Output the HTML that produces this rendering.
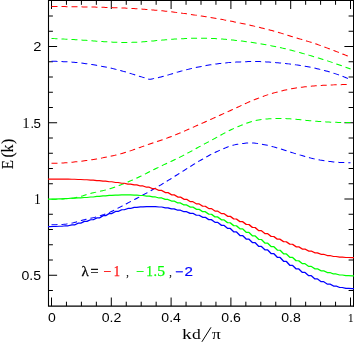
<!DOCTYPE html><html><head><meta charset="utf-8"><style>html,body{margin:0;padding:0;background:#fff;overflow:hidden}svg{display:block;will-change:transform}text{font-family:"Liberation Serif",serif}.s{font-family:"Liberation Sans",sans-serif}</style></head><body>
<svg width="354" height="343" viewBox="0 0 354 343">
<rect width="354" height="343" fill="#fff"/>
<path d="M48.5 0 V306.65000000000003 M48.0 306.1 H354 M48.0 0.4 H354" stroke="#000" stroke-width="1.1" fill="none"/>
<path d="M353.5 0 V306.65000000000003" stroke="#000" stroke-width="1" fill="none"/>
<path d="M51.50 306.1 v-8.6 M51.50 0.4 v8.6 M66.45 306.1 v-4.4 M66.45 0.4 v4.4 M81.40 306.1 v-4.4 M81.40 0.4 v4.4 M96.35 306.1 v-4.4 M96.35 0.4 v4.4 M111.30 306.1 v-8.6 M111.30 0.4 v8.6 M126.25 306.1 v-4.4 M126.25 0.4 v4.4 M141.20 306.1 v-4.4 M141.20 0.4 v4.4 M156.15 306.1 v-4.4 M156.15 0.4 v4.4 M171.10 306.1 v-8.6 M171.10 0.4 v8.6 M186.05 306.1 v-4.4 M186.05 0.4 v4.4 M201.00 306.1 v-4.4 M201.00 0.4 v4.4 M215.95 306.1 v-4.4 M215.95 0.4 v4.4 M230.90 306.1 v-8.6 M230.90 0.4 v8.6 M245.85 306.1 v-4.4 M245.85 0.4 v4.4 M260.80 306.1 v-4.4 M260.80 0.4 v4.4 M275.75 306.1 v-4.4 M275.75 0.4 v4.4 M290.70 306.1 v-8.6 M290.70 0.4 v8.6 M305.65 306.1 v-4.4 M305.65 0.4 v4.4 M320.60 306.1 v-4.4 M320.60 0.4 v4.4 M335.55 306.1 v-4.4 M335.55 0.4 v4.4 M350.50 306.1 v-8.6 M350.50 0.4 v8.6 M48.5 290.50 h4.4 M353.0 290.50 h-4.4 M48.5 275.25 h8.6 M48.5 260.00 h4.4 M353.0 260.00 h-4.4 M48.5 244.75 h4.4 M353.0 244.75 h-4.4 M48.5 229.50 h4.4 M353.0 229.50 h-4.4 M48.5 214.25 h4.4 M353.0 214.25 h-4.4 M353.0 199.00 h-8.6 M48.5 183.75 h4.4 M353.0 183.75 h-4.4 M48.5 168.50 h4.4 M353.0 168.50 h-4.4 M48.5 153.25 h4.4 M353.0 153.25 h-4.4 M48.5 138.00 h4.4 M353.0 138.00 h-4.4 M48.5 122.75 h8.6 M353.0 122.75 h-8.6 M48.5 107.50 h4.4 M353.0 107.50 h-4.4 M48.5 92.25 h4.4 M353.0 92.25 h-4.4 M48.5 77.00 h4.4 M353.0 77.00 h-4.4 M48.5 61.75 h4.4 M353.0 61.75 h-4.4 M48.5 46.50 h8.6 M353.0 46.50 h-8.6 M48.5 31.25 h4.4 M353.0 31.25 h-4.4 M48.5 16.00 h4.4 M353.0 16.00 h-4.4" stroke="#000" stroke-width="1" fill="none"/>
<g transform="scale(1,0.79365)">
<path d="M51.5 8.19 L53.0 8.20 L54.5 8.21 L56.0 8.23 L57.5 8.24 L59.0 8.26 L60.5 8.28 L62.0 8.29 L63.5 8.32 L65.0 8.34 L66.5 8.36 L68.0 8.38 L69.5 8.41 L71.0 8.44 L72.5 8.46 L74.0 8.49 L75.5 8.52 L77.0 8.55 L78.5 8.58 L80.0 8.61 L81.5 8.64 L83.0 8.67 L84.5 8.70 L86.0 8.74 L87.5 8.77 L89.0 8.81 L90.5 8.85 L92.0 8.89 L93.5 8.93 L95.0 8.97 L96.5 9.02 L98.0 9.07 L99.5 9.11 L101.0 9.16 L102.5 9.22 L104.0 9.27 L105.5 9.33 L107.0 9.38 L108.5 9.44 L110.0 9.50 L111.5 9.56 L113.0 9.63 L114.5 9.70 L116.0 9.76 L117.5 9.83 L119.0 9.91 L120.5 9.98 L122.0 10.06 L123.5 10.14 L125.0 10.23 L126.5 10.32 L128.0 10.42 L129.5 10.52 L131.0 10.62 L132.5 10.73 L134.0 10.85 L135.5 10.96 L137.0 11.09 L138.5 11.21 L140.0 11.34 L141.5 11.47 L143.0 11.61 L144.5 11.75 L146.0 11.89 L147.5 12.04 L149.0 12.19 L150.5 12.34 L152.0 12.49 L153.5 12.65 L155.0 12.81 L156.5 12.97 L158.0 13.13 L159.5 13.30 L161.0 13.47 L162.5 13.65 L164.0 13.83 L165.5 14.03 L167.0 14.23 L168.5 14.44 L170.0 14.65 L171.5 14.88 L173.0 15.10 L174.5 15.34 L176.0 15.58 L177.5 15.82 L179.0 16.07 L180.5 16.33 L182.0 16.59 L183.5 16.85 L185.0 17.12 L186.5 17.39 L188.0 17.66 L189.5 17.93 L191.0 18.21 L192.5 18.49 L194.0 18.77 L195.5 19.06 L197.0 19.34 L198.5 19.62 L200.0 19.91 L201.5 20.19 L203.0 20.49 L204.5 20.78 L206.0 21.08 L207.5 21.39 L209.0 21.70 L210.5 22.01 L212.0 22.33 L213.5 22.65 L215.0 22.98 L216.5 23.31 L218.0 23.65 L219.5 23.99 L221.0 24.33 L222.5 24.68 L224.0 25.03 L225.5 25.38 L227.0 25.74 L228.5 26.10 L230.0 26.47 L231.5 26.84 L233.0 27.21 L234.5 27.59 L236.0 27.97 L237.5 28.36 L239.0 28.75 L240.5 29.14 L242.0 29.54 L243.5 29.94 L245.0 30.35 L246.5 30.76 L248.0 31.18 L249.5 31.61 L251.0 32.03 L252.5 32.47 L254.0 32.90 L255.5 33.35 L257.0 33.79 L258.5 34.25 L260.0 34.70 L261.5 35.17 L263.0 35.64 L264.5 36.11 L266.0 36.59 L267.5 37.07 L269.0 37.56 L270.5 38.05 L272.0 38.55 L273.5 39.05 L275.0 39.56 L276.5 40.09 L278.0 40.63 L279.5 41.19 L281.0 41.77 L282.5 42.35 L284.0 42.95 L285.5 43.55 L287.0 44.15 L288.5 44.74 L290.0 45.34 L291.5 45.92 L293.0 46.50 L294.5 47.07 L296.0 47.63 L297.5 48.19 L299.0 48.75 L300.5 49.31 L302.0 49.87 L303.5 50.43 L305.0 50.99 L306.5 51.56 L308.0 52.14 L309.5 52.73 L311.0 53.33 L312.5 53.94 L314.0 54.56 L315.5 55.19 L317.0 55.84 L318.5 56.50 L320.0 57.17 L321.5 57.85 L323.0 58.54 L324.5 59.24 L326.0 59.95 L327.5 60.66 L329.0 61.37 L330.5 62.09 L332.0 62.81 L333.5 63.54 L335.0 64.26 L336.5 64.99 L338.0 65.72 L339.5 66.46 L341.0 67.21 L342.5 67.96 L344.0 68.72 L345.5 69.49 L347.0 70.26 L348.5 71.03 L350.0 71.81 L350.5 72.07" fill="none" stroke="#ff0000" stroke-width="1.25" stroke-dasharray="6 4" stroke-dashoffset="0"/>
<path d="M51.5 48.51 L53.0 48.59 L54.5 48.67 L56.0 48.76 L57.5 48.84 L59.0 48.93 L60.5 49.02 L62.0 49.11 L63.5 49.21 L65.0 49.30 L66.5 49.40 L68.0 49.50 L69.5 49.60 L71.0 49.70 L72.5 49.81 L74.0 49.91 L75.5 50.02 L77.0 50.13 L78.5 50.24 L80.0 50.35 L81.5 50.46 L83.0 50.58 L84.5 50.69 L86.0 50.81 L87.5 50.95 L89.0 51.08 L90.5 51.23 L92.0 51.38 L93.5 51.53 L95.0 51.68 L96.5 51.83 L98.0 51.98 L99.5 52.12 L101.0 52.26 L102.5 52.39 L104.0 52.52 L105.5 52.63 L107.0 52.73 L108.5 52.82 L110.0 52.91 L111.5 53.01 L113.0 53.10 L114.5 53.19 L116.0 53.27 L117.5 53.35 L119.0 53.41 L120.5 53.47 L122.0 53.51 L123.5 53.54 L125.0 53.55 L126.5 53.54 L128.0 53.51 L129.5 53.47 L131.0 53.41 L132.5 53.35 L134.0 53.27 L135.5 53.19 L137.0 53.10 L138.5 53.01 L140.0 52.92 L141.5 52.82 L143.0 52.70 L144.5 52.56 L146.0 52.41 L147.5 52.25 L149.0 52.07 L150.5 51.89 L152.0 51.71 L153.5 51.52 L155.0 51.34 L156.5 51.16 L158.0 50.99 L159.5 50.83 L161.0 50.68 L162.5 50.52 L164.0 50.36 L165.5 50.20 L167.0 50.03 L168.5 49.87 L170.0 49.72 L171.5 49.57 L173.0 49.42 L174.5 49.28 L176.0 49.16 L177.5 49.05 L179.0 48.95 L180.5 48.86 L182.0 48.78 L183.5 48.70 L185.0 48.62 L186.5 48.54 L188.0 48.47 L189.5 48.40 L191.0 48.33 L192.5 48.28 L194.0 48.23 L195.5 48.19 L197.0 48.16 L198.5 48.14 L200.0 48.13 L201.5 48.14 L203.0 48.16 L204.5 48.19 L206.0 48.24 L207.5 48.29 L209.0 48.35 L210.5 48.42 L212.0 48.49 L213.5 48.56 L215.0 48.64 L216.5 48.72 L218.0 48.82 L219.5 48.94 L221.0 49.07 L222.5 49.22 L224.0 49.38 L225.5 49.54 L227.0 49.72 L228.5 49.91 L230.0 50.10 L231.5 50.30 L233.0 50.50 L234.5 50.70 L236.0 50.90 L237.5 51.11 L239.0 51.33 L240.5 51.55 L242.0 51.78 L243.5 52.02 L245.0 52.27 L246.5 52.53 L248.0 52.79 L249.5 53.06 L251.0 53.33 L252.5 53.62 L254.0 53.91 L255.5 54.21 L257.0 54.51 L258.5 54.82 L260.0 55.13 L261.5 55.46 L263.0 55.78 L264.5 56.12 L266.0 56.45 L267.5 56.80 L269.0 57.15 L270.5 57.50 L272.0 57.86 L273.5 58.22 L275.0 58.59 L276.5 58.97 L278.0 59.36 L279.5 59.76 L281.0 60.18 L282.5 60.61 L284.0 61.05 L285.5 61.50 L287.0 61.96 L288.5 62.43 L290.0 62.91 L291.5 63.40 L293.0 63.90 L294.5 64.41 L296.0 64.92 L297.5 65.44 L299.0 65.97 L300.5 66.50 L302.0 67.03 L303.5 67.57 L305.0 68.12 L306.5 68.67 L308.0 69.22 L309.5 69.77 L311.0 70.33 L312.5 70.88 L314.0 71.44 L315.5 72.00 L317.0 72.57 L318.5 73.15 L320.0 73.73 L321.5 74.32 L323.0 74.92 L324.5 75.52 L326.0 76.13 L327.5 76.75 L329.0 77.37 L330.5 78.00 L332.0 78.63 L333.5 79.27 L335.0 79.92 L336.5 80.58 L338.0 81.23 L339.5 81.90 L341.0 82.57 L342.5 83.25 L344.0 83.93 L345.5 84.61 L347.0 85.31 L348.5 86.00 L350.0 86.70 L350.5 86.94" fill="none" stroke="#00ff00" stroke-width="1.25" stroke-dasharray="6 4" stroke-dashoffset="0"/>
<path d="M51.5 77.24 L53.0 77.25 L54.5 77.28 L56.0 77.32 L57.5 77.37 L59.0 77.44 L60.5 77.51 L62.0 77.59 L63.5 77.68 L65.0 77.78 L66.5 77.88 L68.0 77.98 L69.5 78.08 L71.0 78.20 L72.5 78.33 L74.0 78.49 L75.5 78.66 L77.0 78.85 L78.5 79.06 L80.0 79.27 L81.5 79.50 L83.0 79.73 L84.5 79.96 L86.0 80.21 L87.5 80.47 L89.0 80.74 L90.5 81.02 L92.0 81.32 L93.5 81.63 L95.0 81.94 L96.5 82.27 L98.0 82.61 L99.5 82.96 L101.0 83.31 L102.5 83.67 L104.0 84.04 L105.5 84.41 L107.0 84.79 L108.5 85.18 L110.0 85.58 L111.5 86.01 L113.0 86.45 L114.5 86.91 L116.0 87.39 L117.5 87.88 L119.0 88.37 L120.5 88.87 L122.0 89.39 L123.5 89.93 L125.0 90.48 L126.5 91.04 L128.0 91.62 L129.5 92.20 L131.0 92.78 L132.5 93.37 L134.0 93.96 L135.5 94.55 L137.0 95.13 L138.5 95.71 L140.0 96.29 L141.5 96.88 L143.0 97.47 L144.5 98.06 L146.0 98.65 L147.5 99.25 L149.0 99.84 L150.5 99.81 L152.0 99.44 L153.5 99.06 L155.0 98.67 L156.5 98.26 L158.0 97.84 L159.5 97.40 L161.0 96.95 L162.5 96.48 L164.0 95.99 L165.5 95.47 L167.0 94.92 L168.5 94.34 L170.0 93.75 L171.5 93.16 L173.0 92.56 L174.5 91.97 L176.0 91.40 L177.5 90.84 L179.0 90.30 L180.5 89.80 L182.0 89.31 L183.5 88.82 L185.0 88.33 L186.5 87.86 L188.0 87.39 L189.5 86.93 L191.0 86.48 L192.5 86.04 L194.0 85.61 L195.5 85.20 L197.0 84.80 L198.5 84.41 L200.0 84.04 L201.5 83.68 L203.0 83.33 L204.5 82.98 L206.0 82.64 L207.5 82.31 L209.0 81.99 L210.5 81.68 L212.0 81.37 L213.5 81.09 L215.0 80.81 L216.5 80.55 L218.0 80.31 L219.5 80.08 L221.0 79.87 L222.5 79.66 L224.0 79.46 L225.5 79.27 L227.0 79.08 L228.5 78.91 L230.0 78.74 L231.5 78.60 L233.0 78.46 L234.5 78.34 L236.0 78.25 L237.5 78.16 L239.0 78.07 L240.5 77.98 L242.0 77.90 L243.5 77.82 L245.0 77.75 L246.5 77.68 L248.0 77.63 L249.5 77.58 L251.0 77.54 L252.5 77.51 L254.0 77.49 L255.5 77.49 L257.0 77.51 L258.5 77.55 L260.0 77.61 L261.5 77.68 L263.0 77.77 L264.5 77.87 L266.0 77.98 L267.5 78.11 L269.0 78.23 L270.5 78.37 L272.0 78.51 L273.5 78.65 L275.0 78.78 L276.5 78.92 L278.0 79.07 L279.5 79.24 L281.0 79.42 L282.5 79.61 L284.0 79.82 L285.5 80.03 L287.0 80.26 L288.5 80.49 L290.0 80.73 L291.5 80.98 L293.0 81.23 L294.5 81.48 L296.0 81.74 L297.5 82.01 L299.0 82.30 L300.5 82.59 L302.0 82.89 L303.5 83.20 L305.0 83.52 L306.5 83.86 L308.0 84.20 L309.5 84.55 L311.0 84.92 L312.5 85.29 L314.0 85.68 L315.5 86.08 L317.0 86.50 L318.5 86.93 L320.0 87.39 L321.5 87.86 L323.0 88.34 L324.5 88.84 L326.0 89.35 L327.5 89.88 L329.0 90.43 L330.5 90.99 L332.0 91.56 L333.5 92.14 L335.0 92.74 L336.5 93.35 L338.0 94.00 L339.5 94.68 L341.0 95.38 L342.5 96.10 L344.0 96.85 L345.5 97.62 L347.0 98.40 L348.5 99.20 L350.0 100.02 L350.5 100.30" fill="none" stroke="#0000ff" stroke-width="1.25" stroke-dasharray="6 4" stroke-dashoffset="0"/>
<path d="M51.5 205.76 L53.0 205.73 L54.5 205.69 L56.0 205.64 L57.5 205.58 L59.0 205.50 L60.5 205.42 L62.0 205.32 L63.5 205.23 L65.0 205.13 L66.5 205.01 L68.0 204.87 L69.5 204.72 L71.0 204.54 L72.5 204.35 L74.0 204.15 L75.5 203.95 L77.0 203.74 L78.5 203.53 L80.0 203.31 L81.5 203.08 L83.0 202.84 L84.5 202.59 L86.0 202.33 L87.5 202.06 L89.0 201.79 L90.5 201.51 L92.0 201.22 L93.5 200.93 L95.0 200.62 L96.5 200.30 L98.0 199.98 L99.5 199.64 L101.0 199.29 L102.5 198.94 L104.0 198.58 L105.5 198.20 L107.0 197.83 L108.5 197.44 L110.0 197.04 L111.5 196.63 L113.0 196.21 L114.5 195.78 L116.0 195.33 L117.5 194.86 L119.0 194.37 L120.5 193.87 L122.0 193.34 L123.5 192.79 L125.0 192.22 L126.5 191.63 L128.0 191.02 L129.5 190.40 L131.0 189.77 L132.5 189.12 L134.0 188.46 L135.5 187.80 L137.0 187.13 L138.5 186.45 L140.0 185.77 L141.5 185.09 L143.0 184.41 L144.5 183.74 L146.0 183.07 L147.5 182.40 L149.0 181.75 L150.5 181.10 L152.0 180.46 L153.5 179.83 L155.0 179.19 L156.5 178.56 L158.0 177.93 L159.5 177.30 L161.0 176.66 L162.5 176.01 L164.0 175.36 L165.5 174.70 L167.0 174.02 L168.5 173.33 L170.0 172.62 L171.5 171.90 L173.0 171.16 L174.5 170.40 L176.0 169.64 L177.5 168.86 L179.0 168.07 L180.5 167.28 L182.0 166.47 L183.5 165.66 L185.0 164.84 L186.5 164.01 L188.0 163.18 L189.5 162.34 L191.0 161.51 L192.5 160.67 L194.0 159.83 L195.5 158.99 L197.0 158.16 L198.5 157.32 L200.0 156.49 L201.5 155.66 L203.0 154.83 L204.5 153.99 L206.0 153.15 L207.5 152.30 L209.0 151.46 L210.5 150.61 L212.0 149.76 L213.5 148.90 L215.0 148.05 L216.5 147.19 L218.0 146.33 L219.5 145.47 L221.0 144.62 L222.5 143.76 L224.0 142.90 L225.5 142.04 L227.0 141.19 L228.5 140.33 L230.0 139.48 L231.5 138.63 L233.0 137.78 L234.5 136.92 L236.0 136.04 L237.5 135.17 L239.0 134.28 L240.5 133.40 L242.0 132.52 L243.5 131.64 L245.0 130.77 L246.5 129.91 L248.0 129.07 L249.5 128.23 L251.0 127.42 L252.5 126.63 L254.0 125.87 L255.5 125.13 L257.0 124.39 L258.5 123.66 L260.0 122.94 L261.5 122.23 L263.0 121.53 L264.5 120.85 L266.0 120.18 L267.5 119.53 L269.0 118.91 L270.5 118.31 L272.0 117.73 L273.5 117.19 L275.0 116.68 L276.5 116.18 L278.0 115.70 L279.5 115.21 L281.0 114.74 L282.5 114.28 L284.0 113.83 L285.5 113.39 L287.0 112.97 L288.5 112.56 L290.0 112.17 L291.5 111.80 L293.0 111.45 L294.5 111.12 L296.0 110.81 L297.5 110.53 L299.0 110.28 L300.5 110.05 L302.0 109.83 L303.5 109.62 L305.0 109.42 L306.5 109.22 L308.0 109.03 L309.5 108.85 L311.0 108.67 L312.5 108.50 L314.0 108.33 L315.5 108.18 L317.0 108.03 L318.5 107.89 L320.0 107.76 L321.5 107.63 L323.0 107.52 L324.5 107.41 L326.0 107.32 L327.5 107.23 L329.0 107.15 L330.5 107.08 L332.0 107.01 L333.5 106.94 L335.0 106.88 L336.5 106.82 L338.0 106.76 L339.5 106.70 L341.0 106.65 L342.5 106.60 L344.0 106.56 L345.5 106.53 L347.0 106.50 L348.5 106.48 L350.0 106.47 L350.5 106.47" fill="none" stroke="#ff0000" stroke-width="1.25" stroke-dasharray="6 4" stroke-dashoffset="0"/>
<path d="M51.5 250.99 L53.0 250.99 L54.5 250.97 L56.0 250.94 L57.5 250.90 L59.0 250.86 L60.5 250.80 L62.0 250.73 L63.5 250.66 L65.0 250.57 L66.5 250.48 L68.0 250.38 L69.5 250.27 L71.0 250.13 L72.5 249.88 L74.0 249.53 L75.5 249.11 L77.0 248.66 L78.5 248.18 L80.0 247.72 L81.5 247.22 L83.0 246.67 L84.5 246.07 L86.0 245.46 L87.5 244.84 L89.0 244.26 L90.5 243.72 L92.0 243.25 L93.5 242.81 L95.0 242.41 L96.5 242.01 L98.0 241.60 L99.5 241.18 L101.0 240.74 L102.5 240.30 L104.0 239.85 L105.5 239.37 L107.0 238.87 L108.5 238.33 L110.0 237.76 L111.5 237.15 L113.0 236.52 L114.5 235.86 L116.0 235.18 L117.5 234.48 L119.0 233.76 L120.5 233.03 L122.0 232.29 L123.5 231.54 L125.0 230.78 L126.5 230.02 L128.0 229.24 L129.5 228.44 L131.0 227.63 L132.5 226.80 L134.0 225.95 L135.5 225.10 L137.0 224.23 L138.5 223.34 L140.0 222.45 L141.5 221.55 L143.0 220.64 L144.5 219.68 L146.0 218.70 L147.5 217.71 L149.0 216.73 L150.5 215.77 L152.0 214.83 L153.5 213.90 L155.0 212.97 L156.5 212.05 L158.0 211.14 L159.5 210.22 L161.0 209.31 L162.5 208.41 L164.0 207.52 L165.5 206.63 L167.0 205.75 L168.5 204.87 L170.0 203.99 L171.5 203.11 L173.0 202.22 L174.5 201.33 L176.0 200.42 L177.5 199.51 L179.0 198.58 L180.5 197.63 L182.0 196.66 L183.5 195.68 L185.0 194.69 L186.5 193.69 L188.0 192.68 L189.5 191.66 L191.0 190.63 L192.5 189.60 L194.0 188.57 L195.5 187.54 L197.0 186.51 L198.5 185.48 L200.0 184.46 L201.5 183.44 L203.0 182.42 L204.5 181.39 L206.0 180.37 L207.5 179.35 L209.0 178.33 L210.5 177.32 L212.0 176.31 L213.5 175.28 L215.0 174.24 L216.5 173.19 L218.0 172.14 L219.5 171.10 L221.0 170.06 L222.5 169.02 L224.0 168.00 L225.5 166.99 L227.0 166.00 L228.5 165.03 L230.0 164.09 L231.5 163.18 L233.0 162.30 L234.5 161.45 L236.0 160.65 L237.5 159.86 L239.0 159.07 L240.5 158.28 L242.0 157.50 L243.5 156.74 L245.0 156.00 L246.5 155.29 L248.0 154.61 L249.5 153.97 L251.0 153.38 L252.5 152.84 L254.0 152.36 L255.5 151.95 L257.0 151.60 L258.5 151.27 L260.0 150.96 L261.5 150.68 L263.0 150.42 L264.5 150.20 L266.0 150.01 L267.5 149.86 L269.0 149.73 L270.5 149.62 L272.0 149.51 L273.5 149.41 L275.0 149.32 L276.5 149.26 L278.0 149.21 L279.5 149.19 L281.0 149.19 L282.5 149.24 L284.0 149.31 L285.5 149.41 L287.0 149.52 L288.5 149.64 L290.0 149.77 L291.5 149.90 L293.0 150.03 L294.5 150.17 L296.0 150.33 L297.5 150.51 L299.0 150.70 L300.5 150.90 L302.0 151.10 L303.5 151.31 L305.0 151.51 L306.5 151.72 L308.0 151.91 L309.5 152.10 L311.0 152.28 L312.5 152.44 L314.0 152.59 L315.5 152.72 L317.0 152.85 L318.5 152.99 L320.0 153.12 L321.5 153.24 L323.0 153.37 L324.5 153.48 L326.0 153.60 L327.5 153.70 L329.0 153.80 L330.5 153.89 L332.0 153.97 L333.5 154.04 L335.0 154.10 L336.5 154.15 L338.0 154.20 L339.5 154.25 L341.0 154.30 L342.5 154.34 L344.0 154.38 L345.5 154.41 L347.0 154.44 L348.5 154.46 L350.0 154.47 L350.5 154.48" fill="none" stroke="#00ff00" stroke-width="1.25" stroke-dasharray="6 4" stroke-dashoffset="0"/>
<path d="M51.5 283.12 L53.0 283.11 L54.5 283.08 L56.0 283.04 L57.5 282.98 L59.0 282.91 L60.5 282.83 L62.0 282.74 L63.5 282.61 L65.0 282.42 L66.5 282.17 L68.0 281.87 L69.5 281.56 L71.0 281.23 L72.5 280.87 L74.0 280.43 L75.5 279.94 L77.0 279.42 L78.5 278.88 L80.0 278.32 L81.5 277.78 L83.0 277.27 L84.5 276.79 L86.0 276.35 L87.5 275.93 L89.0 275.51 L90.5 275.10 L92.0 274.67 L93.5 274.23 L95.0 273.76 L96.5 273.25 L98.0 272.70 L99.5 272.14 L101.0 271.54 L102.5 270.92 L104.0 270.27 L105.5 269.58 L107.0 268.87 L108.5 268.13 L110.0 267.32 L111.5 266.46 L113.0 265.56 L114.5 264.61 L116.0 263.63 L117.5 262.64 L119.0 261.63 L120.5 260.62 L122.0 259.61 L123.5 258.62 L125.0 257.65 L126.5 256.68 L128.0 255.71 L129.5 254.73 L131.0 253.74 L132.5 252.75 L134.0 251.76 L135.5 250.76 L137.0 249.76 L138.5 248.75 L140.0 247.73 L141.5 246.71 L143.0 245.68 L144.5 244.65 L146.0 243.61 L147.5 242.57 L149.0 241.52 L150.5 240.47 L152.0 239.41 L153.5 238.34 L155.0 237.26 L156.5 236.17 L158.0 235.08 L159.5 233.97 L161.0 232.86 L162.5 231.73 L164.0 230.58 L165.5 229.42 L167.0 228.25 L168.5 227.07 L170.0 225.89 L171.5 224.70 L173.0 223.51 L174.5 222.32 L176.0 221.13 L177.5 219.94 L179.0 218.76 L180.5 217.59 L182.0 216.41 L183.5 215.22 L185.0 214.02 L186.5 212.82 L188.0 211.62 L189.5 210.42 L191.0 209.23 L192.5 208.05 L194.0 206.87 L195.5 205.72 L197.0 204.57 L198.5 203.45 L200.0 202.36 L201.5 201.27 L203.0 200.18 L204.5 199.09 L206.0 198.01 L207.5 196.95 L209.0 195.91 L210.5 194.90 L212.0 193.92 L213.5 192.98 L215.0 192.09 L216.5 191.24 L218.0 190.40 L219.5 189.55 L221.0 188.70 L222.5 187.86 L224.0 187.05 L225.5 186.26 L227.0 185.50 L228.5 184.79 L230.0 184.14 L231.5 183.54 L233.0 183.01 L234.5 182.56 L236.0 182.20 L237.5 181.88 L239.0 181.56 L240.5 181.26 L242.0 180.98 L243.5 180.73 L245.0 180.50 L246.5 180.32 L248.0 180.17 L249.5 180.09 L251.0 180.05 L252.5 180.10 L254.0 180.22 L255.5 180.40 L257.0 180.65 L258.5 180.94 L260.0 181.26 L261.5 181.61 L263.0 181.98 L264.5 182.34 L266.0 182.70 L267.5 183.09 L269.0 183.53 L270.5 184.02 L272.0 184.54 L273.5 185.08 L275.0 185.62 L276.5 186.15 L278.0 186.70 L279.5 187.26 L281.0 187.83 L282.5 188.42 L284.0 189.02 L285.5 189.62 L287.0 190.23 L288.5 190.84 L290.0 191.45 L291.5 192.06 L293.0 192.66 L294.5 193.25 L296.0 193.83 L297.5 194.40 L299.0 194.94 L300.5 195.48 L302.0 196.01 L303.5 196.56 L305.0 197.10 L306.5 197.65 L308.0 198.19 L309.5 198.72 L311.0 199.23 L312.5 199.72 L314.0 200.19 L315.5 200.63 L317.0 201.04 L318.5 201.40 L320.0 201.73 L321.5 202.02 L323.0 202.31 L324.5 202.60 L326.0 202.87 L327.5 203.13 L329.0 203.38 L330.5 203.61 L332.0 203.83 L333.5 204.03 L335.0 204.21 L336.5 204.36 L338.0 204.49 L339.5 204.60 L341.0 204.68 L342.5 204.76 L344.0 204.83 L345.5 204.89 L347.0 204.95 L348.5 204.98 L350.0 205.00 L350.5 205.00" fill="none" stroke="#0000ff" stroke-width="1.25" stroke-dasharray="6 4" stroke-dashoffset="0"/>
<path d="M48.0 225.67 L49.5 225.67 L53.2 225.68 L55.8 225.68 L59.4 225.71 L62.0 225.71 L65.6 225.76 L68.2 225.76 L71.9 225.86 L74.5 225.86 L78.1 226.15 L80.7 226.15 L84.3 226.52 L86.9 226.52 L90.6 227.00 L93.2 227.00 L96.8 227.59 L99.4 227.59 L103.0 228.26 L105.6 228.26 L109.2 229.01 L111.8 229.01 L115.5 229.94 L118.1 229.94 L121.7 230.93 L124.3 230.93 L127.9 231.93 L130.5 231.93 L134.2 233.02 L136.8 233.02 L140.4 234.29 L143.0 234.29 L146.6 235.86 L149.2 235.86 L152.8 237.75 L155.4 237.75 L159.1 239.92 L161.7 239.92 L165.3 242.62 L167.9 242.62 L171.5 245.46 L174.1 245.46 L177.8 248.28 L180.4 248.28 L184.0 251.13 L186.6 251.13 L190.2 254.01 L192.8 254.01 L196.4 256.92 L199.1 256.92 L202.7 259.87 L205.3 259.87 L208.9 262.86 L211.5 262.86 L215.1 265.96 L217.7 265.96 L221.4 269.19 L224.0 269.19 L227.6 272.53 L230.2 272.53 L233.8 275.92 L236.4 275.92 L240.1 279.36 L242.7 279.36 L246.3 282.90 L248.9 282.90 L252.5 286.64 L255.1 286.64 L258.7 290.48 L261.3 290.48 L265.0 294.30 L267.6 294.30 L271.2 297.97 L273.8 297.97 L277.4 301.39 L280.0 301.39 L283.7 304.63 L286.3 304.63 L289.9 307.78 L292.5 307.78 L296.1 310.98 L298.7 310.98 L302.3 313.82 L304.9 313.82 L308.6 316.37 L311.2 316.37 L314.8 318.60 L317.4 318.60 L321.0 320.43 L323.6 320.43 L327.3 321.98 L329.9 321.98 L333.5 323.16 L336.1 323.16 L339.7 324.01 L342.3 324.01 L345.9 324.42 L348.6 324.42 L352.2 324.57 L354.0 324.57" fill="none" stroke="#ff0000" stroke-width="1.5" stroke-linejoin="round"/>
<path d="M48.0 250.99 L49.5 250.99 L53.2 250.78 L55.8 250.78 L59.4 250.49 L62.0 250.49 L65.6 250.14 L68.2 250.14 L71.9 249.75 L74.5 249.75 L78.1 249.31 L80.7 249.31 L84.3 248.84 L86.9 248.84 L90.6 248.20 L93.2 248.20 L96.8 247.44 L99.4 247.44 L103.0 246.76 L105.6 246.76 L109.2 246.28 L111.8 246.28 L115.5 245.85 L118.1 245.85 L121.7 245.59 L124.3 245.59 L127.9 245.64 L130.5 245.64 L134.2 245.92 L136.8 245.92 L140.4 246.33 L143.0 246.33 L146.6 247.07 L149.2 247.07 L152.8 248.15 L155.4 248.15 L159.1 249.44 L161.7 249.44 L165.3 251.23 L167.9 251.23 L171.5 253.36 L174.1 253.36 L177.8 255.68 L180.4 255.68 L184.0 258.20 L186.6 258.20 L190.2 260.89 L192.8 260.89 L196.4 263.73 L199.1 263.73 L202.7 266.75 L205.3 266.75 L208.9 269.97 L211.5 269.97 L215.1 273.38 L217.7 273.38 L221.4 276.94 L224.0 276.94 L227.6 280.65 L230.2 280.65 L233.8 284.47 L236.4 284.47 L240.1 288.47 L242.7 288.47 L246.3 292.73 L248.9 292.73 L252.5 297.19 L255.1 297.19 L258.7 301.74 L261.3 301.74 L265.0 306.32 L267.6 306.32 L271.2 310.83 L273.8 310.83 L277.4 315.28 L280.0 315.28 L283.7 319.86 L286.3 319.86 L289.9 324.37 L292.5 324.37 L296.1 328.55 L298.7 328.55 L302.3 332.23 L304.9 332.23 L308.6 335.64 L311.2 335.64 L314.8 338.68 L317.4 338.68 L321.0 341.23 L323.6 341.23 L327.3 343.45 L329.9 343.45 L333.5 345.19 L336.1 345.19 L339.7 346.48 L342.3 346.48 L345.9 347.19 L348.6 347.19 L352.2 347.51 L354.0 347.51" fill="none" stroke="#00ff00" stroke-width="1.5" stroke-linejoin="round"/>
<path d="M48.0 285.52 L49.5 285.52 L53.2 285.38 L55.8 285.38 L59.4 285.10 L62.0 285.10 L65.6 284.49 L68.2 284.49 L71.9 283.40 L74.5 283.40 L78.1 281.21 L80.7 281.21 L84.3 278.93 L86.9 278.93 L90.6 276.91 L93.2 276.91 L96.8 274.60 L99.4 274.60 L103.0 271.78 L105.6 271.78 L109.2 269.06 L111.8 269.06 L115.5 266.40 L118.1 266.40 L121.7 264.32 L124.3 264.32 L127.9 262.67 L130.5 262.67 L134.2 261.36 L136.8 261.36 L140.4 260.70 L143.0 260.70 L146.6 260.37 L149.2 260.37 L152.8 260.40 L155.4 260.40 L159.1 260.85 L161.7 260.85 L165.3 261.86 L167.9 261.86 L171.5 263.23 L174.1 263.23 L177.8 264.84 L180.4 264.84 L184.0 266.72 L186.6 266.72 L190.2 268.84 L192.8 268.84 L196.4 271.18 L199.1 271.18 L202.7 273.81 L205.3 273.81 L208.9 276.83 L211.5 276.83 L215.1 280.20 L217.7 280.20 L221.4 283.86 L224.0 283.86 L227.6 287.77 L230.2 287.77 L233.8 292.15 L236.4 292.15 L240.1 296.79 L242.7 296.79 L246.3 301.32 L248.9 301.32 L252.5 305.82 L255.1 305.82 L258.7 310.32 L261.3 310.32 L265.0 314.87 L267.6 314.87 L271.2 319.52 L273.8 319.52 L277.4 324.35 L280.0 324.35 L283.7 329.37 L286.3 329.37 L289.9 334.29 L292.5 334.29 L296.1 338.89 L298.7 338.89 L302.3 343.20 L304.9 343.20 L308.6 347.37 L311.2 347.37 L314.8 351.29 L317.4 351.29 L321.0 354.85 L323.6 354.85 L327.3 357.98 L329.9 357.98 L333.5 360.44 L336.1 360.44 L339.7 362.23 L342.3 362.23 L345.9 363.28 L348.6 363.28 L352.2 363.63 L354.0 363.63" fill="none" stroke="#0000ff" stroke-width="1.5" stroke-linejoin="round"/>
</g>
<defs><mask id="m"><rect width="354" height="343" fill="#fff"/></mask></defs><g mask="url(#m)">
<text x="47.9" y="322.3" font-size="12.2" fill="#000" textLength="7.8" lengthAdjust="spacingAndGlyphs" class="s">0</text>
<text x="101.69999999999999" y="322.3" font-size="12.2" fill="#000" textLength="19.6" lengthAdjust="spacingAndGlyphs" class="s">0.2</text>
<text x="161.29999999999998" y="322.3" font-size="12.2" fill="#000" textLength="19.6" lengthAdjust="spacingAndGlyphs" class="s">0.4</text>
<text x="221.29999999999998" y="322.3" font-size="12.2" fill="#000" textLength="19.6" lengthAdjust="spacingAndGlyphs" class="s">0.6</text>
<text x="281.20000000000005" y="322.3" font-size="12.2" fill="#000" textLength="19.6" lengthAdjust="spacingAndGlyphs" class="s">0.8</text>
<text x="347.8" y="322.3" font-size="13.5" fill="#000" textLength="6.0" lengthAdjust="spacingAndGlyphs">1</text>
<text x="33.3" y="51.2" font-size="12.2" fill="#000" textLength="8.2" lengthAdjust="spacingAndGlyphs" class="s">2</text>
<text x="22.2" y="127.6" font-size="14" fill="#000" textLength="7.4" lengthAdjust="spacingAndGlyphs">1</text>
<text x="30.4" y="127.6" font-size="12.2" fill="#000" textLength="3.5" lengthAdjust="spacingAndGlyphs" class="s">.</text>
<text x="33.6" y="127.6" font-size="12.2" fill="#000" textLength="7.4" lengthAdjust="spacingAndGlyphs" class="s">5</text>
<text x="34.0" y="203.6" font-size="14" fill="#000" textLength="6.8" lengthAdjust="spacingAndGlyphs">1</text>
<text x="21.5" y="280.3" font-size="12.2" fill="#000" textLength="19.6" lengthAdjust="spacingAndGlyphs" class="s">0.5</text>
<text x="181.9" y="338.8" font-size="14" fill="#000" textLength="9.8" lengthAdjust="spacingAndGlyphs">k</text>
<text x="192.0" y="338.8" font-size="14" fill="#000" textLength="8.8" lengthAdjust="spacingAndGlyphs">d</text>
<path d="M201.9 341.8 L211.0 327.3" stroke="#000" stroke-width="1" fill="none"/>
<text x="212.0" y="338.8" font-size="14" fill="#000" textLength="8.8" lengthAdjust="spacingAndGlyphs">π</text>
<text transform="translate(12.8,169.3) rotate(-90)" font-size="16" fill="#000" stroke="#000" stroke-width="0.12" textLength="9.2" lengthAdjust="spacingAndGlyphs">E</text>
<text transform="translate(12.8,157.4) rotate(-90)" font-size="16" fill="#000" stroke="#000" stroke-width="0.12">(</text>
<text transform="translate(12.8,152.4) rotate(-90)" font-size="16" fill="#000" stroke="#000" stroke-width="0.12" textLength="8.0" lengthAdjust="spacingAndGlyphs">k</text>
<text transform="translate(12.8,144.0) rotate(-90)" font-size="16" fill="#000" stroke="#000" stroke-width="0.12">)</text>
<text x="81.6" y="276.3" font-size="14" fill="#000" textLength="7.2" lengthAdjust="spacingAndGlyphs" stroke="#000" stroke-width="0.3">λ</text>
<text x="90.6" y="276.3" font-size="14" fill="#000" textLength="8.0" lengthAdjust="spacingAndGlyphs" stroke="#000" stroke-width="0.3">=</text>
<text x="103.5" y="276.3" font-size="14" fill="#ff0000" textLength="8.0" lengthAdjust="spacingAndGlyphs" stroke="#ff0000" stroke-width="0.25">−</text>
<text x="113.8" y="276.3" font-size="14" fill="#ff0000" textLength="6.2" lengthAdjust="spacingAndGlyphs" stroke="#ff0000" stroke-width="0.25">1</text>
<text x="126.0" y="276.3" font-size="12" fill="#000">,</text>
<text x="136.3" y="276.3" font-size="14" fill="#00ff00" textLength="8.0" lengthAdjust="spacingAndGlyphs" stroke="#00ff00" stroke-width="0.25">−</text>
<text x="146.2" y="276.3" font-size="14" fill="#00ff00" textLength="6.6" lengthAdjust="spacingAndGlyphs" stroke="#00ff00" stroke-width="0.25">1</text>
<text x="153.4" y="276.3" font-size="14" fill="#00ff00" stroke="#00ff00" stroke-width="0.25">.</text>
<text x="157.2" y="276.3" font-size="14" fill="#00ff00" textLength="7.8" lengthAdjust="spacingAndGlyphs" stroke="#00ff00" stroke-width="0.25">5</text>
<text x="169.0" y="276.3" font-size="12" fill="#000">,</text>
<text x="175.1" y="276.3" font-size="12.2" fill="#0000ff" textLength="8.2" lengthAdjust="spacingAndGlyphs" class="s" stroke="#0000ff" stroke-width="0.2">−</text>
<text x="184.4" y="276.3" font-size="12.2" fill="#0000ff" textLength="8.4" lengthAdjust="spacingAndGlyphs" class="s" stroke="#0000ff" stroke-width="0.2">2</text>
</g>
</svg></body></html>
